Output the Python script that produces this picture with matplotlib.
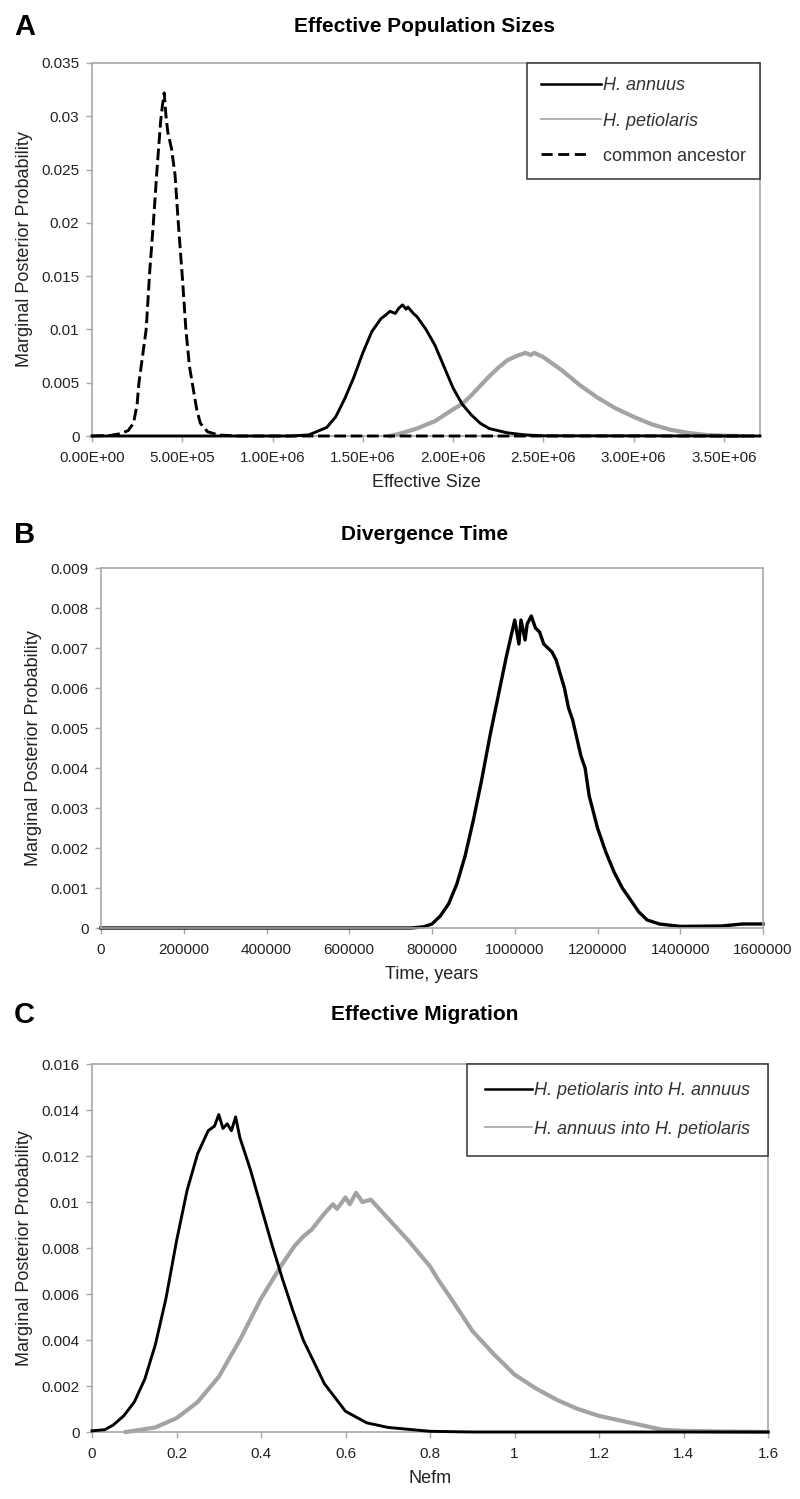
import numpy as np
import matplotlib.pyplot as plt
from matplotlib.lines import Line2D

plt.rcParams['font.family'] = ['Liberation Sans', 'DejaVu Sans']

# A: effective population sizes
anc_x = [0, 1e5, 1.5e5, 2e5, 2.3e5, 2.5e5, 2.6e5, 2.8e5, 3.0e5, 3.2e5, 3.4e5, 3.6e5, 3.8e5, 3.9e5,
         4.0e5, 4.1e5, 4.2e5, 4.4e5, 4.6e5, 4.8e5, 5.0e5, 5.2e5, 5.4e5, 5.6e5, 5.8e5, 6.0e5, 6.4e5,
         7e5, 8e5, 3.7e6]
anc_y = [0, 0.00005, 0.0002, 0.0005, 0.0012, 0.003, 0.005, 0.0075, 0.0100, 0.0155, 0.0200, 0.0250,
         0.0295, 0.0310, 0.0322, 0.0300, 0.0285, 0.0270, 0.0245, 0.0195, 0.0150, 0.0100, 0.0065,
         0.0045, 0.0025, 0.0012, 0.0004, 0.0001, 0, 0]
ann_x = [0, 1.1e6, 1.2e6, 1.3e6, 1.35e6, 1.4e6, 1.45e6, 1.5e6, 1.55e6, 1.6e6, 1.63e6, 1.65e6, 1.68e6,
         1.7e6, 1.72e6, 1.74e6, 1.75e6, 1.78e6, 1.8e6, 1.85e6, 1.9e6, 1.95e6, 2.0e6, 2.05e6, 2.1e6,
         2.15e6, 2.2e6, 2.3e6, 2.4e6, 2.5e6, 3.7e6]
ann_y = [0, 0, 0.0001, 0.0008, 0.0018, 0.0035, 0.0055, 0.0078, 0.0098, 0.0110, 0.0114, 0.0117,
         0.0115, 0.0120, 0.0123, 0.0119, 0.0121, 0.0115, 0.0112, 0.0100, 0.0085, 0.0065, 0.0045,
         0.0030, 0.0020, 0.0012, 0.0007, 0.0003, 0.0001, 0.00002, 0]
pet_x = [1.65e6, 1.7e6, 1.8e6, 1.9e6, 2.0e6, 2.05e6, 2.1e6, 2.15e6, 2.2e6, 2.25e6, 2.3e6, 2.35e6,
         2.4e6, 2.43e6, 2.45e6, 2.5e6, 2.55e6, 2.6e6, 2.65e6, 2.7e6, 2.75e6, 2.8e6, 2.85e6, 2.9e6,
         2.95e6, 3.0e6, 3.1e6, 3.2e6, 3.3e6, 3.4e6, 3.5e6, 3.6e6]
pet_y = [0, 0.0002, 0.0007, 0.0014, 0.0025, 0.0030, 0.0038, 0.0047, 0.0056, 0.0064, 0.0071, 0.0075,
         0.0078, 0.0076, 0.0078, 0.0074, 0.0068, 0.0062, 0.0055, 0.0048, 0.0042, 0.0036, 0.0031,
         0.0026, 0.0022, 0.0018, 0.0011, 0.0006, 0.0003, 0.0001, 0.00003, 0]

# B: divergence time
div_x = [0, 7.5e5, 7.8e5, 8.0e5, 8.2e5, 8.4e5, 8.6e5, 8.8e5, 9.0e5, 9.2e5, 9.4e5, 9.6e5, 9.8e5,
         1.0e6, 1.01e6, 1.015e6, 1.025e6, 1.03e6, 1.04e6, 1.05e6, 1.06e6, 1.07e6, 1.09e6, 1.1e6,
         1.12e6, 1.13e6, 1.14e6, 1.16e6, 1.17e6, 1.18e6, 1.2e6, 1.22e6, 1.24e6, 1.26e6, 1.28e6,
         1.3e6, 1.32e6, 1.35e6, 1.4e6, 1.5e6, 1.55e6, 1.6e6]
div_y = [0, 0, 0.00003, 0.0001, 0.0003, 0.0006, 0.0011, 0.0018, 0.0027, 0.0037, 0.0048, 0.0058,
         0.0068, 0.0077, 0.0071, 0.0077, 0.0072, 0.0076, 0.0078, 0.0075, 0.0074, 0.0071, 0.0069,
         0.0067, 0.0060, 0.0055, 0.0052, 0.0043, 0.0040, 0.0033, 0.0025, 0.0019, 0.0014, 0.0010,
         0.0007, 0.0004, 0.0002, 0.0001, 0.00004, 0.00005, 0.0001, 0.0001]

# C: effective migration
p2a_x = [0, 0.03, 0.05, 0.075, 0.1, 0.125, 0.15, 0.175, 0.2, 0.225, 0.25, 0.275, 0.29, 0.3, 0.31,
         0.32, 0.33, 0.34, 0.35, 0.375, 0.4, 0.425, 0.45, 0.475, 0.5, 0.55, 0.6, 0.65, 0.7, 0.8,
         0.9, 1.6]
p2a_y = [0.00005, 0.0001, 0.0003, 0.0007, 0.0013, 0.0023, 0.0038, 0.0058, 0.0083, 0.0105, 0.0121,
         0.0131, 0.0133, 0.0138, 0.0132, 0.0134, 0.0131, 0.0137, 0.0128, 0.0114, 0.0098, 0.0082,
         0.0067, 0.0053, 0.0040, 0.0021, 0.0009, 0.0004, 0.0002, 0.00003, 0, 0]
a2p_x = [0.08, 0.1, 0.15, 0.2, 0.25, 0.3, 0.35, 0.4, 0.45, 0.48, 0.5, 0.52, 0.55, 0.57, 0.58,
         0.6, 0.61, 0.625, 0.64, 0.66, 0.68, 0.7, 0.75, 0.8, 0.82, 0.85, 0.9, 0.95, 1.0, 1.05, 1.1,
         1.15, 1.2, 1.25, 1.3, 1.35, 1.4, 1.5, 1.6]
a2p_y = [0, 0.00005, 0.0002, 0.0006, 0.0013, 0.0024, 0.0040, 0.0058, 0.0073, 0.0081, 0.0085,
         0.0088, 0.0095, 0.0099, 0.0097, 0.0102, 0.0099, 0.0104, 0.0100, 0.0101, 0.0097, 0.0093,
         0.0083, 0.0072, 0.0066, 0.0058, 0.0044, 0.0034, 0.0025, 0.0019, 0.0014, 0.0010, 0.0007,
         0.0005, 0.0003, 0.0001, 0.00005, 0.00002, 0]

a_xticks = [0, 5e5, 1e6, 1.5e6, 2e6, 2.5e6, 3e6, 3.5e6]
a_xlabels = ['0.00E+00', '5.00E+05', '1.00E+06', '1.50E+06', '2.00E+06', '2.50E+06', '3.00E+06', '3.50E+06']
a_yticks = [0, 0.005, 0.01, 0.015, 0.02, 0.025, 0.03, 0.035]
a_ylabels = ['0', '0.005', '0.01', '0.015', '0.02', '0.025', '0.03', '0.035']
b_xticks = [0, 2e5, 4e5, 6e5, 8e5, 1e6, 1.2e6, 1.4e6, 1.6e6]
b_xlabels = ['0', '200000', '400000', '600000', '800000', '1000000', '1200000', '1400000', '1600000']
b_yticks = [0, 0.001, 0.002, 0.003, 0.004, 0.005, 0.006, 0.007, 0.008, 0.009]
b_ylabels = ['0', '0.001', '0.002', '0.003', '0.004', '0.005', '0.006', '0.007', '0.008', '0.009']
c_xticks = [0, 0.2, 0.4, 0.6, 0.8, 1.0, 1.2, 1.4, 1.6]
c_xlabels = ['0', '0.2', '0.4', '0.6', '0.8', '1', '1.2', '1.4', '1.6']
c_yticks = [0, 0.002, 0.004, 0.006, 0.008, 0.01, 0.012, 0.014, 0.016]
c_ylabels = ['0', '0.002', '0.004', '0.006', '0.008', '0.01', '0.012', '0.014', '0.016']

W, H = 800, 1499
GRAY = '#a3a3a3'
FRAME = '#a8a8a8'
TXT = '#222222'

fig = plt.figure(figsize=(W / 100, H / 100), dpi=100)


def make_ax(left, top, right, bottom):
    ax = fig.add_axes([left / W, 1 - bottom / H, (right - left) / W, (bottom - top) / H])
    for s in ax.spines.values():
        s.set_color(FRAME)
        s.set_linewidth(1.2)
    ax.tick_params(direction='out', length=4, width=1, color=FRAME, labelsize=11,
                   labelcolor=TXT)
    ax.tick_params(axis='x', pad=7)
    ax.tick_params(axis='y', pad=5)
    return ax


def decorate(ax, xt, xl, yt, yl, xlim, ylim, xlabel, title, letter, ty):
    ax.set_xticks(xt)
    ax.set_xticklabels(xl)
    ax.set_yticks(yt)
    ax.set_yticklabels(yl)
    ax.set_xlim(*xlim)
    ax.set_ylim(*ylim)
    ax.set_xlabel(xlabel, fontsize=13, color=TXT, labelpad=6)
    ax.set_ylabel('Marginal Posterior Probability', fontsize=13, color=TXT, labelpad=6)
    fig.text(425 / W, 1 - ty / H, title, fontsize=15, fontweight='bold', ha='center', va='center')
    fig.text(14 / W, 1 - ty / H, letter, fontsize=21, fontweight='bold', ha='left', va='center')


# panel A
ax1 = make_ax(92, 63, 760, 436)
ax1.plot(pet_x, pet_y, color=GRAY, lw=3.0, clip_on=False, zorder=2)
ax1.plot(ann_x, ann_y, color='black', lw=2.1, clip_on=False, zorder=3)
ax1.plot(anc_x, anc_y, color='black', lw=2.1, dashes=(4, 1.6), clip_on=False, zorder=4)
decorate(ax1, a_xticks, a_xlabels, a_yticks, a_ylabels, (0, 3.7e6), (0, 0.035),
         'Effective Size', 'Effective Population Sizes', 'A', 27)
# dashed sample: three dashes then a gap before the text, as in the original legend
handles = [Line2D([], [], color='black', lw=1.8),
           Line2D([], [], color=GRAY, lw=1.2),
           Line2D([], [], color='black', lw=2.0, dashes=(4, 2, 4, 2, 4, 9),
                  dash_capstyle='butt')]
leg1 = ax1.legend(handles, ['H. annuus', 'H. petiolaris', 'common ancestor'],
                  loc='upper right', bbox_to_anchor=(1.0, 1.0), fontsize=13,
                  handlelength=3.3, handletextpad=0.1, labelspacing=1.0, borderpad=0.8,
                  borderaxespad=0, fancybox=False, framealpha=1, edgecolor='#333333')
leg1.get_frame().set_linewidth(1.1)
for t, it in zip(leg1.get_texts(), [True, True, False]):
    t.set_color('#333333')
    if it:
        t.set_fontstyle('italic')

# panel B
ax2 = make_ax(101, 568, 763, 928)
ax2.plot(div_x, div_y, color='black', lw=2.4, clip_on=False)
decorate(ax2, b_xticks, b_xlabels, b_yticks, b_ylabels, (0, 1.6e6), (0, 0.009),
         'Time, years', 'Divergence Time', 'B', 535)

# panel C
ax3 = make_ax(92, 1064, 768, 1432)
ax3.plot(a2p_x, a2p_y, color=GRAY, lw=3.0, clip_on=False, zorder=2)
ax3.plot(p2a_x, p2a_y, color='black', lw=2.1, clip_on=False, zorder=3)
decorate(ax3, c_xticks, c_xlabels, c_yticks, c_ylabels, (0, 1.6), (0, 0.016),
         'Nefm', 'Effective Migration', 'C', 1015)
handles = [Line2D([], [], color='black', lw=1.8), Line2D([], [], color=GRAY, lw=1.2)]
leg3 = ax3.legend(handles, ['H. petiolaris into H. annuus', 'H. annuus into H. petiolaris'],
                  loc='upper right', bbox_to_anchor=(1.0, 1.0),
                  handlelength=2.6, handletextpad=0.1, labelspacing=1.2, borderpad=1.0,
                  borderaxespad=0, fancybox=False, framealpha=1, edgecolor='#333333',
                  prop={'style': 'italic', 'size': 13})
leg3.get_frame().set_linewidth(1.1)
for t in leg3.get_texts():
    t.set_color('#333333')

fig.savefig('out.png', dpi=100)
